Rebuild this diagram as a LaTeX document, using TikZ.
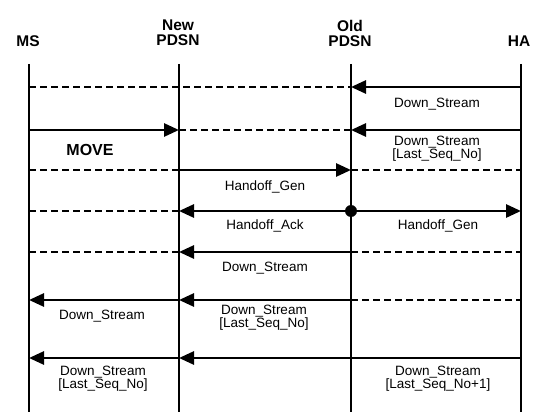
\documentclass[tikz,border=0pt]{standalone}
\usepackage{fontspec}
\setmainfont{Liberation Sans}
\usetikzlibrary{arrows.meta}
\begin{document}
\begin{tikzpicture}[x=1pt,y=-1pt,
  life/.style={line width=2.8pt},
  msg/.style={line width=2.8pt,-{Triangle[length=15pt,width=13pt]}},
  dline/.style={line width=1.3pt,dash pattern=on 7pt off 4pt},
  head/.style={font=\fontsize{15.5}{15}\selectfont\bfseries,align=center,inner sep=0pt},
  lbl/.style={font=\fontsize{13.5}{13}\selectfont,align=center,inner sep=0pt},
  blbl/.style={font=\fontsize{16}{16}\selectfont\bfseries,inner sep=0pt}]
\useasboundingbox (0,0) rectangle (539,412);
% lifeline x positions
\def\xa{29}\def\xb{179}\def\xc{351}\def\xd{521}
% headers
\node[head] (hMS) at (28,41) {MS};
\node[head] (hNew) at (178,33) {New\\PDSN};
\node[head] (hOld) at (350,33) {Old\\PDSN};
\node[head] (hHA) at (519,41) {HA};
% lifeline ends
\foreach \n/\x in {ms/\xa,np/\xb,op/\xc,ha/\xd}{
  \coordinate (\n T) at (\x,64);
  \coordinate (\n B) at (\x,412);
}
% row coordinates
\foreach \r/\y in {1/87,2/130,3/170,4/211,5/252,6/300,7/358}{
  \coordinate (ms\r) at (\xa,\y);
  \coordinate (np\r) at (\xb,\y);
  \coordinate (op\r) at (\xc,\y);
  \coordinate (ha\r) at (\xd,\y);
}
% lifelines
\draw[life] (msT) -- (msB);
\draw[life] (npT) -- (npB);
\draw[life] (opT) -- (opB);
\draw[life] (haT) -- (haB);
% row 1
\draw[dline] (ms1) -- (op1);
\draw[msg] (ha1) -- (op1);
% row 2
\draw[msg] (ms2) -- (np2);
\draw[dline] (np2) -- (op2);
\draw[msg] (ha2) -- (op2);
% row 3
\draw[dline] (ms3) -- (np3);
\draw[msg] (np3) -- (op3);
\draw[dline] (op3) -- (ha3);
% row 4
\draw[dline] (ms4) -- (np4);
\draw[msg] (op4) -- (np4);
\draw[msg] (op4) -- (ha4);
\fill (op4) circle (6pt);
% row 5
\draw[dline] (ms5) -- (np5);
\draw[msg] (op5) -- (np5);
\draw[dline] (op5) -- (ha5);
% row 6
\draw[msg] (np6) -- (ms6);
\draw[msg] (op6) -- (np6);
\draw[dline] (op6) -- (ha6);
% row 7
\draw[msg] (np7) -- (ms7);
\draw[msg] (ha7) -- (np7);
% labels
\node[lbl] (l1) at (437,104) {Down\_Stream};
\node[lbl] (l2) at (437,149) {Down\_Stream\\{}[Last\_Seq\_No]};
\node[blbl] (lmove) at (90,150) {MOVE};
\node[lbl] (l3) at (265,187) {Handoff\_Gen};
\node[lbl] (l4) at (265,226) {Handoff\_Ack};
\node[lbl] (l5) at (438,226) {Handoff\_Gen};
\node[lbl] (l6) at (265,268) {Down\_Stream};
\node[lbl] (l7) at (102,316) {Down\_Stream};
\node[lbl] (l8) at (264,318) {Down\_Stream\\{}[Last\_Seq\_No]};
\node[lbl] (l9) at (103,379) {Down\_Stream\\{}[Last\_Seq\_No]};
\node[lbl] (l10) at (438,379) {Down\_Stream\\{}[Last\_Seq\_No+1]};
\end{tikzpicture}
\end{document}
